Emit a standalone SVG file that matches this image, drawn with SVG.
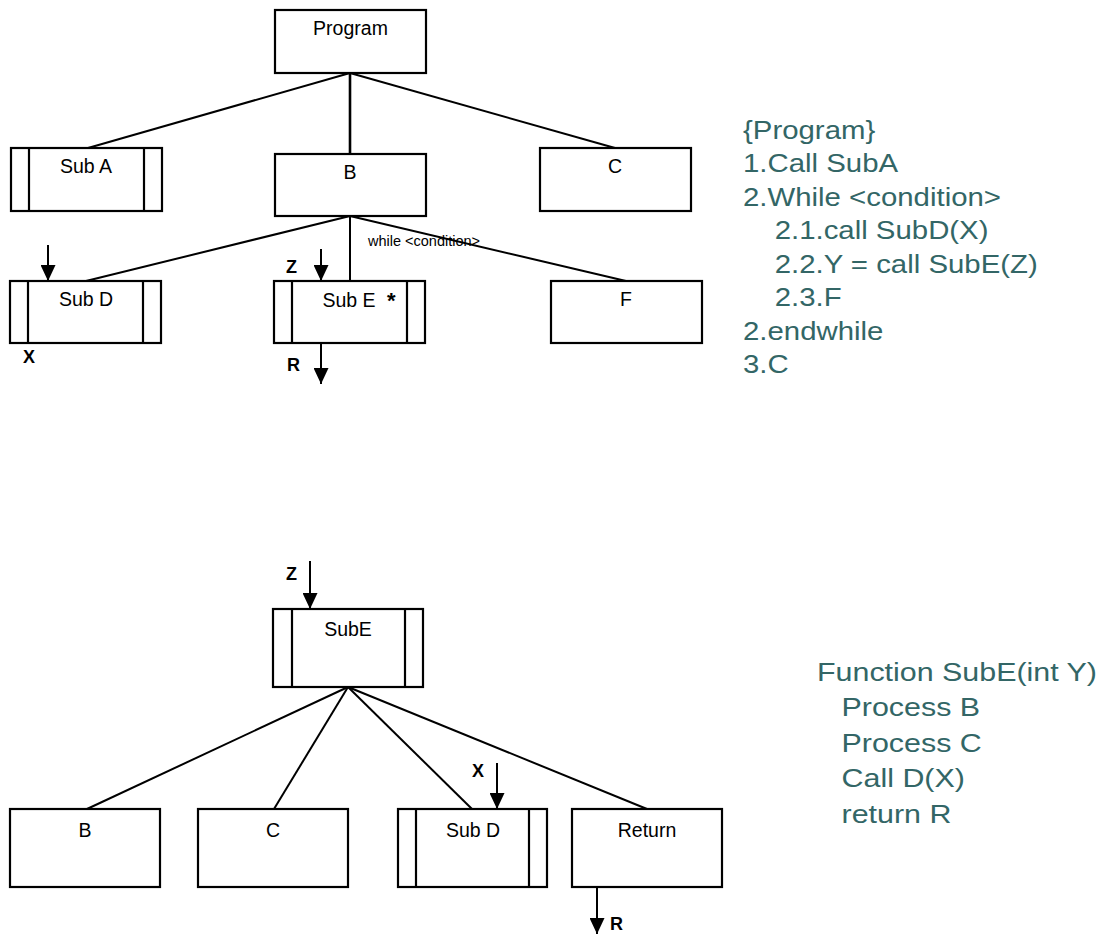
<svg xmlns="http://www.w3.org/2000/svg" width="1107" height="934" viewBox="0 0 1107 934">
  <style>
    .box { fill: #fff; stroke: #000; stroke-width: 2.2; }
    .bar { stroke: #000; stroke-width: 2.2; }
    .link { stroke: #000; stroke-width: 2; fill: none; }
    .flow { stroke: #000; stroke-width: 2; fill: none; marker-end: url(#head); }
    .lbl { font-family: "Liberation Sans", Arial, sans-serif; font-size: 19.5px; fill: #000; text-anchor: middle; }
    .var { font-family: "Liberation Sans", Arial, sans-serif; font-size: 18px; font-weight: bold; fill: #000; }
    .small { font-family: "Liberation Sans", Arial, sans-serif; font-size: 14.5px; fill: #000; }
    .code { font-family: "Liberation Sans", Arial, sans-serif; font-size: 26px; fill: #336666; }
  </style>
  <defs>
    <marker id="head" viewBox="0 0 16 15" refX="16" refY="7.5" markerWidth="16" markerHeight="15" markerUnits="userSpaceOnUse" orient="auto">
      <path d="M0,0 L16,7.5 L0,15 z" fill="#000"/>
    </marker>
  </defs>
  <rect width="1107" height="934" fill="#fff"/>

  <!-- connectors -->
  <g id="connectors">
    <line class="link" x1="350" y1="73" x2="88" y2="148"/>
    <line class="link" x1="350" y1="73" x2="350" y2="154" style="stroke-width:2.6"/>
    <line class="link" x1="350" y1="73" x2="615" y2="148"/>
    <line class="link" x1="350" y1="216" x2="86" y2="281"/>
    <line class="link" x1="350" y1="216" x2="350" y2="281"/>
    <line class="link" x1="350" y1="216" x2="626" y2="281"/>
    <line class="link" x1="348" y1="687" x2="87" y2="809"/>
    <line class="link" x1="348" y1="687" x2="274" y2="809"/>
    <line class="link" x1="348" y1="687" x2="472" y2="809"/>
    <line class="link" x1="348" y1="687" x2="647" y2="809"/>
    <!-- data flow arrows -->
    <line class="flow" x1="48" y1="245" x2="48" y2="281"/>
    <line class="flow" x1="321" y1="249" x2="321" y2="281"/>
    <line class="flow" x1="321" y1="344" x2="321" y2="384"/>
    <line class="flow" x1="310" y1="561" x2="310" y2="609"/>
    <line class="flow" x1="497" y1="763" x2="497" y2="809"/>
    <line class="flow" x1="597" y1="888" x2="597" y2="934"/>
  </g>

  <!-- top tree -->
  <g id="program">
    <rect class="box" x="275" y="10" width="151" height="63"/>
    <text class="lbl" x="350.5" y="35">Program</text>
  </g>
  <g id="sub-a">
    <rect class="box" x="11" y="148" width="151" height="63"/>
    <line class="bar" x1="29" y1="148" x2="29" y2="211"/>
    <line class="bar" x1="144" y1="148" x2="144" y2="211"/>
    <text class="lbl" x="86" y="173">Sub A</text>
  </g>
  <g id="b">
    <rect class="box" x="275" y="154" width="151" height="62"/>
    <text class="lbl" x="350" y="179">B</text>
  </g>
  <g id="c">
    <rect class="box" x="540" y="148" width="151" height="63"/>
    <text class="lbl" x="615" y="173">C</text>
  </g>
  <g id="sub-d">
    <rect class="box" x="10" y="281" width="151" height="62"/>
    <line class="bar" x1="28" y1="281" x2="28" y2="343"/>
    <line class="bar" x1="143" y1="281" x2="143" y2="343"/>
    <text class="lbl" x="86" y="306">Sub D</text>
  </g>
  <g id="sub-e">
    <rect class="box" x="274" y="281" width="151" height="62"/>
    <line class="bar" x1="292" y1="281" x2="292" y2="343"/>
    <line class="bar" x1="407" y1="281" x2="407" y2="343"/>
    <text class="lbl" x="349" y="307">Sub E</text>
    <text class="var" x="387" y="308" style="font-size:22px">*</text>
  </g>
  <g id="f">
    <rect class="box" x="551" y="281" width="151" height="62"/>
    <text class="lbl" x="626" y="306">F</text>
  </g>
  <g id="top-labels">
    <text class="small" x="368" y="246">while &lt;condition&gt;</text>
    <text class="var" x="23" y="363">X</text>
    <text class="var" x="286" y="273">Z</text>
    <text class="var" x="287" y="371">R</text>
  </g>

  <!-- SubE detail tree -->
  <g id="sube">
    <rect class="box" x="273" y="609" width="150" height="78"/>
    <line class="bar" x1="292" y1="609" x2="292" y2="687"/>
    <line class="bar" x1="405" y1="609" x2="405" y2="687"/>
    <text class="lbl" x="348" y="636">SubE</text>
  </g>
  <g id="sube-b">
    <rect class="box" x="10" y="809" width="150" height="78"/>
    <text class="lbl" x="85" y="837">B</text>
  </g>
  <g id="sube-c">
    <rect class="box" x="198" y="809" width="150" height="78"/>
    <text class="lbl" x="273" y="837">C</text>
  </g>
  <g id="sube-subd">
    <rect class="box" x="398" y="809" width="149" height="78"/>
    <line class="bar" x1="416" y1="809" x2="416" y2="887"/>
    <line class="bar" x1="529" y1="809" x2="529" y2="887"/>
    <text class="lbl" x="473" y="837">Sub D</text>
  </g>
  <g id="sube-return">
    <rect class="box" x="572" y="809" width="150" height="78"/>
    <text class="lbl" x="647" y="837">Return</text>
  </g>
  <g id="bottom-labels">
    <text class="var" x="286" y="580">Z</text>
    <text class="var" x="472" y="777">X</text>
    <text class="var" x="610" y="930">R</text>
  </g>

  <!-- pseudocode -->
  <g id="program-code" transform="translate(743,0) scale(1.13,1)">
    <text class="code" x="0" y="139">{Program}</text>
    <text class="code" x="0" y="172.5">1.Call SubA</text>
    <text class="code" x="0" y="206">2.While &lt;condition&gt;</text>
    <text class="code" x="28" y="239.5">2.1.call SubD(X)</text>
    <text class="code" x="28" y="273">2.2.Y = call SubE(Z)</text>
    <text class="code" x="28" y="306.5">2.3.F</text>
    <text class="code" x="0" y="340">2.endwhile</text>
    <text class="code" x="0" y="373.5">3.C</text>
  </g>
  <g id="sube-code" transform="translate(817,0) scale(1.17,1)">
    <text class="code" x="0" y="681">Function SubE(int Y)</text>
    <text class="code" x="21" y="716">Process B</text>
    <text class="code" x="21" y="752">Process C</text>
    <text class="code" x="21" y="787">Call D(X)</text>
    <text class="code" x="21" y="823">return R</text>
  </g>
</svg>
